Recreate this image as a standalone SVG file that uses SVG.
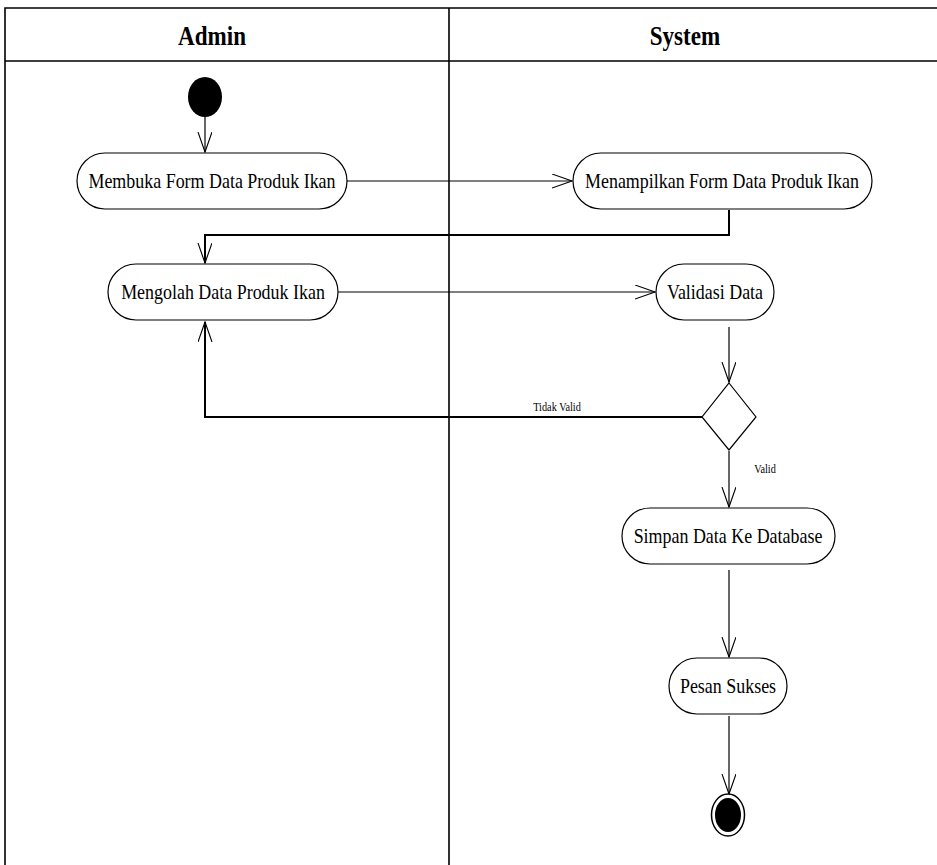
<svg xmlns="http://www.w3.org/2000/svg" width="937" height="865" viewBox="0 0 937 865">
<style>
.lane{fill:none;stroke:#000;stroke-width:1.6}
.act{fill:#fff;stroke:#000;stroke-width:1.2}
.txt{font-family:"Liberation Serif","Times New Roman",serif;font-size:21px;fill:#000;text-anchor:middle;dominant-baseline:central}
.hdr{font-family:"Liberation Serif","Times New Roman",serif;font-size:27px;font-weight:bold;fill:#000;text-anchor:middle;dominant-baseline:central}
.lbl{font-family:"Liberation Serif","Times New Roman",serif;font-size:12px;fill:#000;text-anchor:middle;dominant-baseline:central}
.con{fill:none;stroke:#000;stroke-width:1.2}
.conb{fill:none;stroke:#000;stroke-width:2}
</style>
<defs>
<marker id="arr" markerUnits="userSpaceOnUse" markerWidth="24" markerHeight="18" refX="20" refY="7" orient="auto" viewBox="0 0 24 18">
<path d="M0,0 L20,7 L0,14" fill="none" stroke="#000" stroke-width="1.1"/>
</marker>
</defs>
<rect width="937" height="865" fill="#fff"/>
<g id="swimlanes">
<path class="lane" d="M5,865 V8 H937 M5,61 H937 M449,8 V865"/>
<text class="hdr" transform="translate(212,36) scale(0.855,1)">Admin</text>
<text class="hdr" transform="translate(685,36) scale(0.855,1)">System</text>
</g>
<g id="connectors">
<path class="con" d="M205,117 V152" marker-end="url(#arr)"/>
<path class="con" d="M347,181 H572" marker-end="url(#arr)"/>
<path class="conb" d="M729,210 V235 H205 V263" marker-end="url(#arr)"/>
<path class="con" d="M338,292 H655" marker-end="url(#arr)"/>
<path class="con" d="M729,327 V382" marker-end="url(#arr)"/>
<path class="conb" d="M702,417 H205 V322" marker-end="url(#arr)"/>
<text class="lbl" transform="translate(557,407) scale(0.855,1)">Tidak Valid</text>
<path class="con" d="M729,451 V507" marker-end="url(#arr)"/>
<text class="lbl" transform="translate(765,469) scale(0.855,1)">Valid</text>
<path class="con" d="M729,570 V657" marker-end="url(#arr)"/>
<path class="con" d="M729,716 V794" marker-end="url(#arr)"/>
</g>
<g id="start">
<ellipse cx="205" cy="97" rx="17" ry="20" fill="#000"/>
</g>
<g id="membuka">
<rect class="act" x="77" y="153" width="270" height="56" rx="28" ry="28"/>
<text class="txt" transform="translate(212,181) scale(0.855,1)">Membuka Form Data Produk Ikan</text>
</g>
<g id="menampilkan">
<rect class="act" x="573" y="153" width="299" height="56" rx="28" ry="28"/>
<text class="txt" transform="translate(722,181) scale(0.855,1)">Menampilkan Form Data Produk Ikan</text>
</g>
<g id="mengolah">
<rect class="act" x="108" y="264" width="230" height="56" rx="28" ry="28"/>
<text class="txt" transform="translate(223,292) scale(0.855,1)">Mengolah Data Produk Ikan</text>
</g>
<g id="validasi">
<rect class="act" x="656" y="264" width="118" height="56" rx="28" ry="28"/>
<text class="txt" transform="translate(715,292) scale(0.855,1)">Validasi Data</text>
</g>
<g id="decision">
<polygon class="act" points="729,383 756,417 729,450 702,417"/>
</g>
<g id="simpan">
<rect class="act" x="622" y="508" width="213" height="56" rx="28" ry="28"/>
<text class="txt" transform="translate(728,536) scale(0.855,1)">Simpan Data Ke Database</text>
</g>
<g id="pesan">
<rect class="act" x="669" y="658" width="118" height="56" rx="28" ry="28"/>
<text class="txt" transform="translate(728,686) scale(0.855,1)">Pesan Sukses</text>
</g>
<g id="end">
<ellipse cx="728" cy="815" rx="16.5" ry="21" fill="#fff" stroke="#000" stroke-width="1.5"/>
<ellipse cx="728" cy="815" rx="13" ry="17" fill="#000"/>
</g>
</svg>
